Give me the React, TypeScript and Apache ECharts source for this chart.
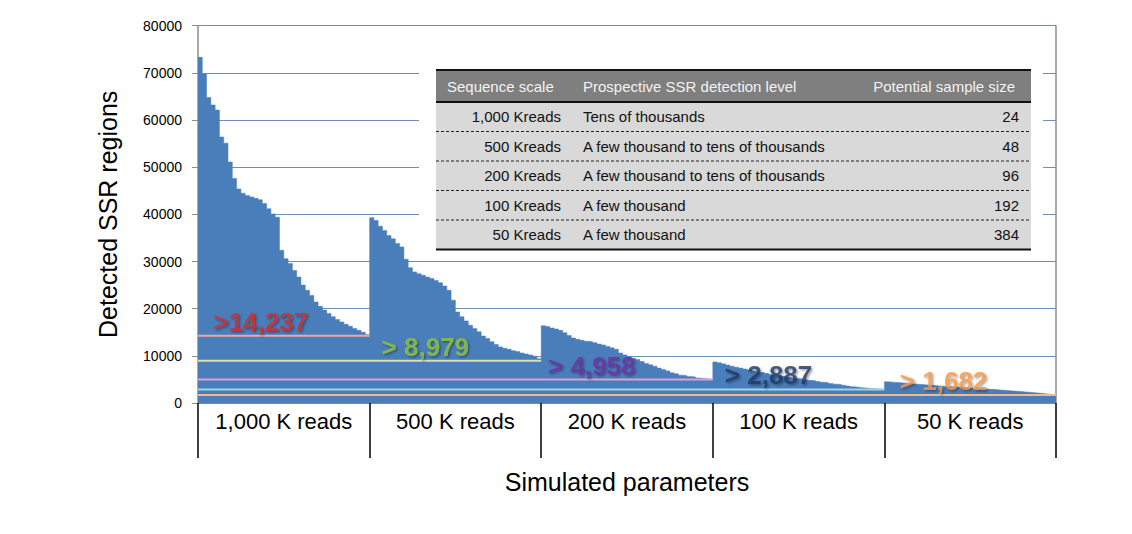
import React, { useEffect, useRef } from 'react';
import * as echarts from 'echarts';

const groupLabels = ['1,000 K reads', '500 K reads', '200 K reads', '100 K reads', '50 K reads'];

// Detected SSR regions per simulated sample (sorted; 40 slots per group)
const reads1000 = [73300, 69800, 64800, 63200, 62100, 56400, 55100, 51100, 47600, 45400, 44500, 44000, 43700, 43400, 43100, 42300, 41200, 40100, 39400, 32400, 30600, 29600, 28100, 26700, 25000, 23900, 22800, 21400, 20500, 19700, 19000, 18300, 17700, 17200, 16700, 16300, 15800, 15400, 15000, 14500];
const reads500 = [39300, 38700, 37500, 36600, 35500, 34800, 33800, 33100, 30500, 28700, 27800, 27400, 27100, 26700, 26400, 26000, 25500, 24800, 23900, 21800, 19300, 18300, 17400, 16500, 15800, 15100, 14200, 13700, 13000, 12400, 11900, 11600, 11400, 11100, 10900, 10600, 10400, 10200, 9900, 9400];
const reads200 = [16400, 16200, 15900, 15700, 15400, 14900, 14300, 13800, 13500, 13300, 13100, 13000, 12800, 12500, 12300, 12000, 11700, 11400, 10600, 10200, 9800, 9500, 9200, 8800, 8400, 8100, 7800, 7400, 7100, 6800, 6400, 6200, 5900, 5800, 5600, 5500, 5300, 5200, 5100, 5000];
const reads100 = [8700, 8550, 8300, 8050, 7800, 7600, 7400, 7200, 7000, 6800, 6600, 6450, 6300, 6100, 5950, 5800, 5650, 5500, 5350, 5200, 5100, 4950, 4800, 4700, 4550, 4400, 4300, 4150, 4000, 3900, 3750, 3600, 3450, 3350, 3250, 3150, 3050, 3000, 2950, 2900];
const reads50 = [4500, 4420, 4360, 4280, 4200, 4130, 4050, 3980, 3900, 3840, 3760, 3700, 3620, 3560, 3500, 3440, 3380, 3320, 3260, 3200, 3140, 3080, 3020, 2960, 2900, 2840, 2770, 2700, 2630, 2560, 2490, 2420, 2340, 2260, 2180, 2100, 2010, 1920, 1830, 1720];

const thresholds = [14237, 8979, 4958, 2887, 1682];
const thresholdLabels = ['>14,237', '> 8,979', '> 4,958', '> 2,887', '> 1,682'];
const thresholdLabelColors = ['#cc2f2f', '#8cc43c', '#7030a0', '#1f3864', '#f79646'];
const thresholdLineColors = ['#f2a3a3', '#d7e3a3', '#d6a2d6', '#9dd4ea', '#f4b88e'];
const labelStart = [0.09, 1.07, 2.04, 3.07, 4.09];

const yTicks = { min: 0, max: 80000, interval: 10000 };

const tableHeader = ['Sequence scale', 'Prospective SSR detection level', 'Potential sample size'];
const tableScale = ['1,000 Kreads', '500 Kreads', '200 Kreads', '100 Kreads', '50 Kreads'];
const tableLevel = ['Tens of thousands', 'A few thousand to tens of thousands', 'A few thousand to tens of thousands', 'A few thousand', 'A few thousand'];
const tableSize = ['24', '48', '96', '192', '384'];

const FONT = '"Liberation Sans", Arial, Helvetica, sans-serif';

export default function App() {
  const ref = useRef<HTMLDivElement>(null);

  useEffect(() => {
    const chart = echarts.init(ref.current!, null, { renderer: 'svg' });
    const groups = [reads1000, reads500, reads200, reads100, reads50];

    // stepped outline: each sample occupies an equal slot within its group
    const stepData: number[][] = [];
    groups.forEach((vals, k) => {
      const n = vals.length;
      vals.forEach((v, j) => {
        stepData.push([k + j / n, v]);
        stepData.push([k + (j + 1) / n, v]);
      });
    });

    // table graphic
    const tL = 436, tR = 1031, hTop = 70, hH = 32, rowH = 29.5;
    const g: any[] = [];
    g.push({ type: 'rect', z: 100, shape: { x: 419, y: 62, width: 624, height: 194 }, style: { fill: '#ffffff' } });
    g.push({ type: 'rect', z: 101, shape: { x: tL, y: hTop, width: tR - tL, height: hH }, style: { fill: '#7f7f7f' } });
    g.push({ type: 'rect', z: 101, shape: { x: tL, y: hTop + hH, width: tR - tL, height: rowH * 5 }, style: { fill: '#d9d9d9' } });
    g.push({ type: 'line', z: 102, shape: { x1: tL, y1: hTop, x2: tR, y2: hTop }, style: { stroke: '#111', lineWidth: 2 } });
    g.push({ type: 'line', z: 102, shape: { x1: tL, y1: hTop + hH, x2: tR, y2: hTop + hH }, style: { stroke: '#111', lineWidth: 2 } });
    g.push({ type: 'line', z: 102, shape: { x1: tL, y1: hTop + hH + rowH * 5, x2: tR, y2: hTop + hH + rowH * 5 }, style: { stroke: '#111', lineWidth: 2 } });
    for (let i = 1; i < 5; i++) {
      const y = hTop + hH + rowH * i;
      g.push({ type: 'line', z: 102, shape: { x1: tL, y1: y, x2: tR, y2: y }, style: { stroke: '#222', lineWidth: 1, lineDash: [3, 2] } });
    }
    const hy = hTop + hH / 2;
    const hs = { fill: '#f2f2f2', fontSize: 15, fontFamily: FONT, verticalAlign: 'middle' };
    g.push({ type: 'text', z: 103, x: 447, y: hy, style: { ...hs, text: tableHeader[0], align: 'left' } });
    g.push({ type: 'text', z: 103, x: 583, y: hy, style: { ...hs, text: tableHeader[1], align: 'left' } });
    g.push({ type: 'text', z: 103, x: 1015, y: hy, style: { ...hs, text: tableHeader[2], align: 'right' } });
    for (let i = 0; i < 5; i++) {
      const y = hTop + hH + rowH * i + rowH / 2;
      const bs = { fill: '#111', fontSize: 15, fontFamily: FONT, verticalAlign: 'middle' };
      g.push({ type: 'text', z: 103, x: 561, y, style: { ...bs, text: tableScale[i], align: 'right' } });
      g.push({ type: 'text', z: 103, x: 583, y, style: { ...bs, text: tableLevel[i], align: 'left' } });
      g.push({ type: 'text', z: 103, x: 1019, y, style: { ...bs, text: tableSize[i], align: 'right' } });
    }

    const lineSeries = thresholds.map((v, k) => ({
      type: 'line',
      xAxisIndex: 1,
      yAxisIndex: 0,
      z: 5,
      symbol: 'none',
      silent: true,
      data: [[0, v], [k + 1, v]],
      lineStyle: { color: thresholdLineColors[k], width: 2 },
    }));

    const labelSeries = {
      type: 'scatter',
      xAxisIndex: 1,
      yAxisIndex: 0,
      z: 6,
      symbolSize: 0,
      silent: true,
      data: thresholds.map((v, k) => ({
        value: [labelStart[k], v],
        label: {
          show: true,
          position: 'right',
          distance: 0,
          offset: [0, -14],
          formatter: thresholdLabels[k],
          color: thresholdLabelColors[k],
          fontSize: 26,
          fontWeight: 'bold',
          fontFamily: FONT,
          textShadowColor: 'rgba(0,0,0,0.45)',
          textShadowBlur: 2,
          textShadowOffsetX: 1.5,
          textShadowOffsetY: 1.5,
        },
      })),
    };

    const option: any = {
      animation: false,
      backgroundColor: '#ffffff',
      textStyle: { fontFamily: FONT },
      grid: { left: 198, right: 76, top: 25.7, bottom: 131 },
      xAxis: [
        {
          type: 'category',
          data: groupLabels,
          position: 'bottom',
          boundaryGap: true,
          axisLine: { show: false },
          axisTick: { show: true, interval: 0, length: 55, lineStyle: { color: '#000', width: 1.5 } },
          axisLabel: { interval: 0, fontSize: 22, color: '#000', margin: 7, fontFamily: FONT },
          name: 'Simulated parameters',
          nameLocation: 'middle',
          nameGap: 66,
          nameTextStyle: { fontSize: 25, color: '#000', fontFamily: FONT },
          splitLine: { show: false },
        },
        { type: 'value', min: 0, max: 5, show: false },
      ],
      yAxis: [
        {
          type: 'value',
          min: yTicks.min,
          max: yTicks.max,
          interval: yTicks.interval,
          axisLine: { show: true, lineStyle: { color: '#8c8c8c', width: 1.5 } },
          axisTick: { show: true, length: 6, lineStyle: { color: '#8c8c8c' } },
          axisLabel: { fontSize: 14, color: '#000', margin: 16, fontFamily: FONT, formatter: (v: number) => String(v) },
          splitLine: { show: true, lineStyle: { color: '#6d8fb3', width: 1 } },
          name: 'Detected SSR regions',
          nameLocation: 'middle',
          nameGap: 78,
          nameTextStyle: { fontSize: 25, color: '#000', fontFamily: FONT },
        },
        {
          type: 'value',
          position: 'right',
          min: yTicks.min,
          max: yTicks.max,
          interval: yTicks.interval,
          axisLine: { show: true, lineStyle: { color: '#8c8c8c', width: 1.5 } },
          axisTick: { show: false },
          axisLabel: { show: false },
          splitLine: { show: false },
        },
      ],
      series: [
        {
          type: 'line',
          xAxisIndex: 1,
          yAxisIndex: 0,
          data: stepData,
          symbol: 'none',
          silent: true,
          lineStyle: { width: 0.5, color: '#4a7ebb' },
          areaStyle: { color: '#4a7ebb', opacity: 1 },
          z: 2,
        },
        ...lineSeries,
        labelSeries,
      ],
      graphic: g,
    };
    chart.setOption(option);
    return () => chart.dispose();
  }, []);

  return (
    <div
      ref={ref}
      style={{ position: 'fixed', left: 0, top: 0, width: 1132, height: 534, background: '#fff' }}
    />
  );
}
